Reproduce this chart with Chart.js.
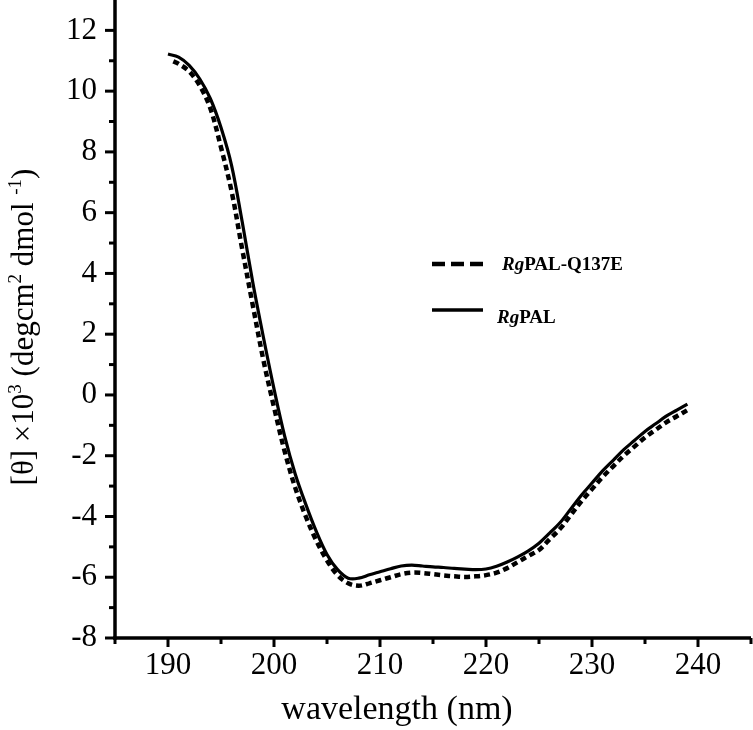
<!DOCTYPE html>
<html>
<head>
<meta charset="utf-8">
<script src="https://cdn.jsdelivr.net/npm/chart.js@4.4.1/dist/chart.umd.min.js"></script>
<style>
  html, body { margin: 0; padding: 0; background: #fff; }
  #wrap { width: 753px; height: 730px; position: relative; }
</style>
</head>
<body>
<div id="wrap"><canvas id="c"></canvas></div>
<script>
// ---- data ----
const wavelengthRgPAL = [190,191,192,193,194,195,196,197,198,199,200,201,202,203,204,205,206,207,208,209,210,211,212,213,214,215,216,217,218,219,220,221,222,223,224,225,226,227,228,229,230,231,232,233,234,235,236,237,238,239];
const thetaRgPAL = [11.22,11.12,10.85,10.4,9.75,8.8,7.55,5.7,3.7,1.9,0.2,-1.35,-2.6,-3.6,-4.5,-5.25,-5.75,-6.03,-6.03,-5.92,-5.82,-5.72,-5.63,-5.6,-5.63,-5.66,-5.68,-5.71,-5.73,-5.75,-5.73,-5.64,-5.5,-5.33,-5.13,-4.88,-4.55,-4.2,-3.75,-3.3,-2.9,-2.5,-2.15,-1.8,-1.5,-1.2,-0.95,-0.7,-0.5,-0.3];

const wavelengthQ137E = [190.5,191,192,193,194,195,196,197,198,199,200,201,202,203,204,205,206,207,208,209,210,211,212,213,214,215,216,217,218,219,220,221,222,223,224,225,226,227,228,229,230,231,232,233,234,235,236,237,238,239];
const thetaQ137E = [10.98,10.9,10.65,10.18,9.43,8.15,6.7,4.8,2.95,1.15,-0.4,-1.85,-3.05,-4.0,-4.8,-5.45,-5.93,-6.2,-6.28,-6.2,-6.1,-6.0,-5.9,-5.85,-5.86,-5.9,-5.94,-5.97,-5.99,-5.97,-5.93,-5.85,-5.7,-5.5,-5.3,-5.1,-4.75,-4.4,-3.95,-3.5,-3.1,-2.7,-2.35,-2.0,-1.7,-1.4,-1.15,-0.9,-0.7,-0.5];

const xMajorTicks = [190,200,210,220,230,240];
const xMinorTicks = [185,195,205,215,225,235,245];
const yMajorTicks = [-8,-6,-4,-2,0,2,4,6,8,10,12];
const yMinorTicks = [-7,-5,-3,-1,1,3,5,7,9,11];
const seriesNames = ['PAL-Q137E', 'PAL'];
const xTitle = 'wavelength (nm)';

const toPoints = (xs, ys) => xs.map((x, i) => ({ x: x, y: ys[i] }));
const FONT = '"Liberation Serif", "Times New Roman", serif';

const axesPlugin = {
  id: 'axesPlugin',
  afterDraw(chart) {
    const ctx = chart.ctx;
    const xs = chart.scales.x, ys = chart.scales.y;
    const a = chart.chartArea;
    ctx.save();
    ctx.strokeStyle = '#000';
    ctx.lineCap = 'butt';
    // ticks
    ctx.lineWidth = 3;
    yMajorTicks.forEach(v => { const p = ys.getPixelForValue(v); ctx.beginPath(); ctx.moveTo(a.left - 10, p); ctx.lineTo(a.left, p); ctx.stroke(); });
    yMinorTicks.forEach(v => { const p = ys.getPixelForValue(v); ctx.beginPath(); ctx.moveTo(a.left - 6, p); ctx.lineTo(a.left, p); ctx.stroke(); });
    xMajorTicks.forEach(v => { const p = xs.getPixelForValue(v); ctx.beginPath(); ctx.moveTo(p, a.bottom); ctx.lineTo(p, a.bottom + 9); ctx.stroke(); });
    xMinorTicks.forEach(v => { const p = xs.getPixelForValue(v); ctx.beginPath(); ctx.moveTo(p, a.bottom); ctx.lineTo(p, a.bottom + 6); ctx.stroke(); });
    // axis lines
    ctx.lineWidth = 3.5;
    ctx.beginPath(); ctx.moveTo(a.left, a.top); ctx.lineTo(a.left, a.bottom + 1.75); ctx.stroke();
    ctx.beginPath(); ctx.moveTo(a.left - 1.75, a.bottom); ctx.lineTo(a.right, a.bottom); ctx.stroke();

    // x title
    ctx.fillStyle = '#000';
    ctx.font = '34px ' + FONT;
    ctx.textAlign = 'center';
    ctx.textBaseline = 'alphabetic';
    ctx.fillText(xTitle, 397, 719);

    // y title (rotated, with superscripts)
    const parts = [
      { t: '[\u03B8] \u00D710', sup: false },
      { t: '3', sup: true },
      { t: ' (degcm', sup: false },
      { t: '2', sup: true },
      { t: ' dmol ', sup: false },
      { t: '-1', sup: true },
      { t: ')', sup: false }
    ];
    const big = '31px ' + FONT, small = '19px ' + FONT;
    let total = 0;
    parts.forEach(p => { ctx.font = p.sup ? small : big; p.w = ctx.measureText(p.t).width; total += p.w; });
    ctx.translate(33, 327);
    ctx.rotate(-Math.PI / 2);
    ctx.textAlign = 'left';
    let cx = -total / 2;
    parts.forEach(p => { ctx.font = p.sup ? small : big; ctx.fillText(p.t, cx, p.sup ? -12 : 0); cx += p.w; });
    ctx.restore();

    // legend
    ctx.save();
    ctx.strokeStyle = '#000';
    ctx.fillStyle = '#000';
    ctx.lineWidth = 4.5;
    ctx.setLineDash([13, 6]);
    ctx.beginPath(); ctx.moveTo(432, 264); ctx.lineTo(483, 264); ctx.stroke();
    ctx.setLineDash([]);
    ctx.lineWidth = 3.3;
    ctx.beginPath(); ctx.moveTo(432, 310); ctx.lineTo(483, 310); ctx.stroke();
    ctx.textBaseline = 'alphabetic';
    ctx.textAlign = 'left';
    const drawLabel = (x, y, rest) => {
      ctx.font = 'italic bold 19px ' + FONT;
      ctx.fillText('Rg', x, y);
      const w = ctx.measureText('Rg').width;
      ctx.font = 'bold 19px ' + FONT;
      ctx.fillText(rest, x + w, y);
    };
    drawLabel(502, 270, seriesNames[0]);
    drawLabel(497, 323, seriesNames[1]);
    ctx.restore();
  }
};

new Chart(document.getElementById('c'), {
  type: 'line',
  data: {
    datasets: [
      {
        label: 'RgPAL-Q137E',
        data: toPoints(wavelengthQ137E, thetaQ137E),
        borderColor: '#000',
        borderWidth: 4.5,
        borderDash: [6, 4],
        pointRadius: 0,
        tension: 0.35,
        fill: false
      },
      {
        label: 'RgPAL',
        data: toPoints(wavelengthRgPAL, thetaRgPAL),
        borderColor: '#000',
        borderWidth: 3.2,
        pointRadius: 0,
        tension: 0.35,
        fill: false
      }
    ]
  },
  options: {
    responsive: true,
    maintainAspectRatio: false,
    animation: false,
    layout: { padding: { left: 0, right: 2, top: 0, bottom: 0 } },
    plugins: { legend: { display: false }, tooltip: { enabled: false } },
    scales: {
      x: {
        type: 'linear',
        min: 185, max: 245,
        border: { display: false },
        grid: { display: true, drawOnChartArea: false, drawTicks: true, tickLength: 8, color: 'rgba(0,0,0,0)', tickColor: 'rgba(0,0,0,0)' },
        ticks: {
          stepSize: 5, autoSkip: false, maxRotation: 0, padding: 1, color: '#000',
          font: { family: FONT, size: 31 },
          callback: v => (xMajorTicks.includes(v) ? String(v) : '')
        },
        afterFit: s => { s.height = 92; s.paddingLeft = 0; s.paddingRight = 0; }
      },
      y: {
        type: 'linear',
        min: -8, max: 13,
        border: { display: false },
        grid: { display: true, drawOnChartArea: false, drawTicks: true, tickLength: 10, color: 'rgba(0,0,0,0)', tickColor: 'rgba(0,0,0,0)' },
        ticks: {
          stepSize: 1, autoSkip: false, padding: 8, color: '#000',
          font: { family: FONT, size: 31 },
          callback: v => (yMajorTicks.includes(v) ? String(v) : '')
        },
        afterFit: s => { s.width = 115; s.paddingTop = 0; s.paddingBottom = 0; }
      }
    }
  },
  plugins: [axesPlugin]
});
</script>
</body>
</html>
